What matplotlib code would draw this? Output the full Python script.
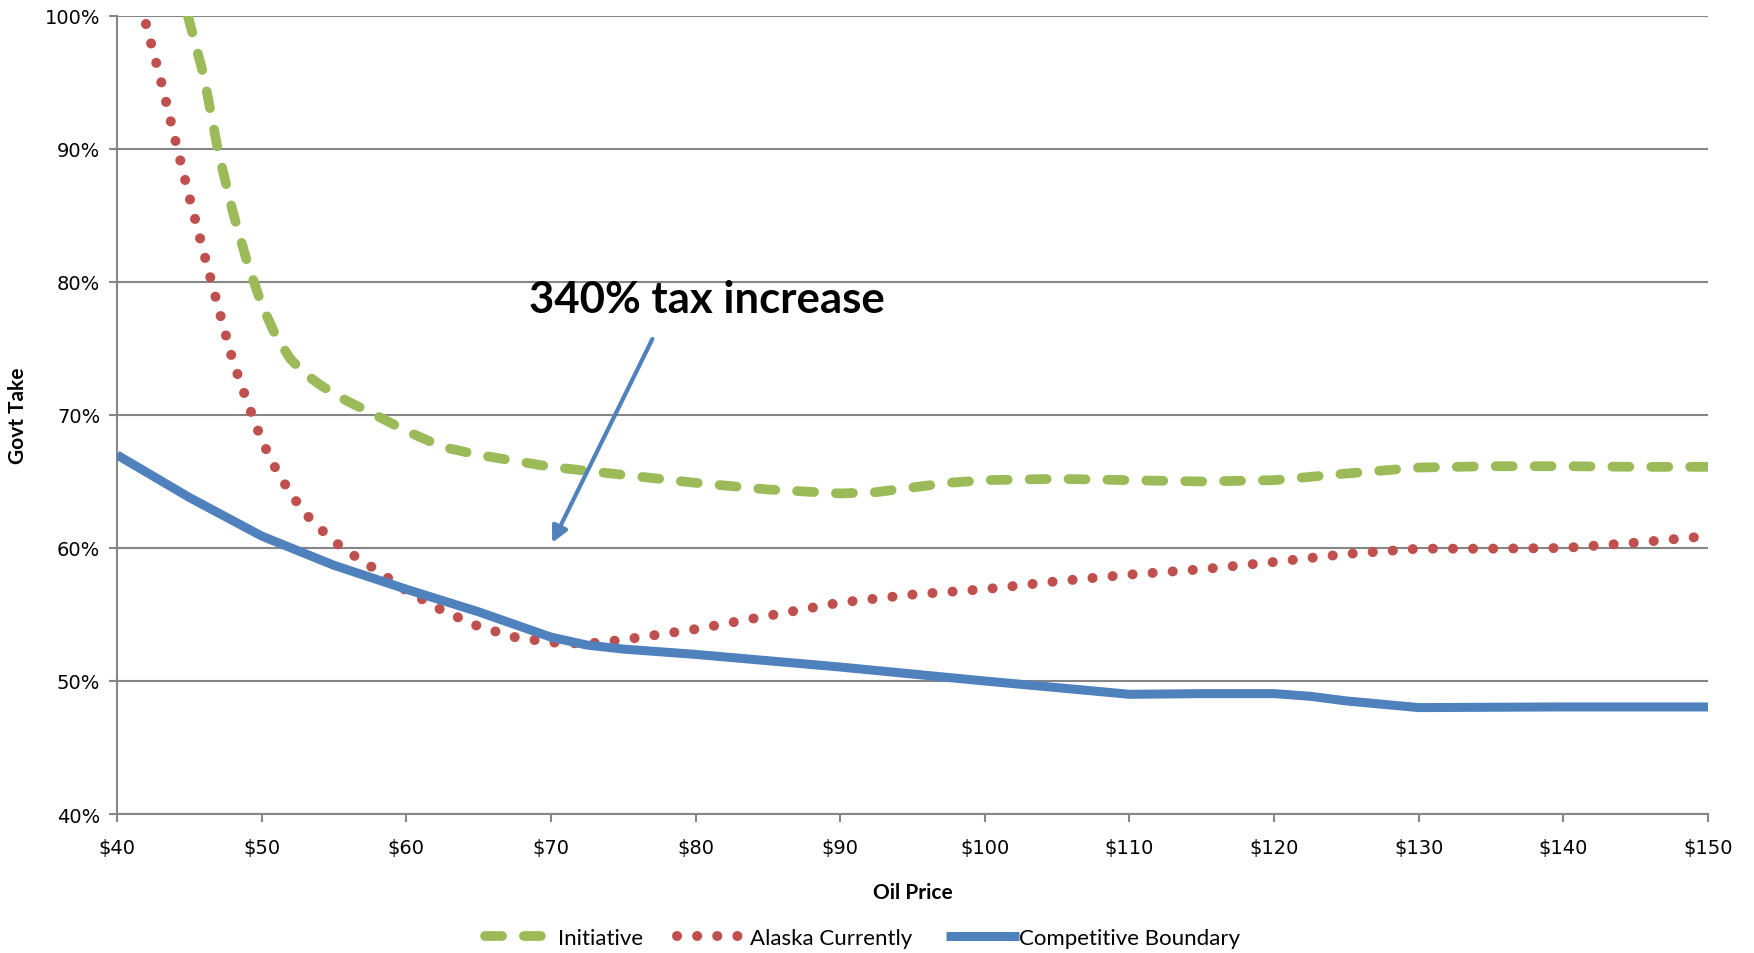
import matplotlib.pyplot as plt
from matplotlib.ticker import FuncFormatter

# oil price ($/bbl) and government take (%)
boundary_x = [40, 45, 50, 55, 60, 65, 70, 72.5, 75, 80, 90, 100, 105, 110, 115, 120, 122.5, 125,
              130, 140, 150]
boundary_y = [67.0, 63.8, 60.9, 58.7, 56.9, 55.2, 53.3, 52.7, 52.4, 52.0, 51.05, 50.0, 49.5,
              49.0, 49.05, 49.05, 48.85, 48.5, 48.0, 48.05, 48.05]

initiative_x = [44.9, 46, 47, 48, 49, 50, 51, 52, 53, 54, 55, 56, 57.5, 60, 62.5, 65, 70, 75, 80,
                85, 90, 92.5, 95, 97.5, 100, 105, 110, 115, 120, 125, 130, 135, 140, 145, 150]
initiative_y = [100.0, 95.5, 89.8, 85.3, 81.5, 78.3, 75.9, 74.2, 73.1, 72.3, 71.6, 71.0, 70.2,
                68.8, 67.6, 67.0, 66.1, 65.5, 64.9, 64.4, 64.1, 64.2, 64.55, 64.9, 65.1, 65.2,
                65.1, 65.0, 65.1, 65.6, 66.05, 66.15, 66.15, 66.1, 66.1]

alaska_x = [42, 43, 44, 45, 46, 47, 48, 49, 50, 51, 52, 53, 54, 55, 56, 58, 60, 62.5, 65, 67.5,
            70, 72.5, 75, 77.5, 80, 85, 90, 95, 100, 105, 110, 115, 120, 125, 130, 135, 140,
            145, 150]
alaska_y = [99.4, 95.3, 90.8, 86.4, 82.2, 78.1, 74.1, 71.0, 68.1, 65.9, 64.1, 62.6, 61.5, 60.5,
            59.7, 58.3, 56.8, 55.3, 54.1, 53.3, 52.9, 52.8, 53.1, 53.5, 53.9, 54.9, 55.9, 56.5,
            56.9, 57.5, 58.0, 58.4, 58.95, 59.55, 59.95, 59.95, 60.0, 60.4, 60.9]

x_ticks = list(range(40, 151, 10))
y_ticks = list(range(40, 101, 10))

GREEN = '#9BBB59'
RED = '#C0504D'
BLUE = '#4F81BD'
GRID = '#868686'

fig = plt.figure(figsize=(17.54, 9.54), dpi=100)
ax = fig.add_axes([0.0667, 0.1457, 0.9071, 0.8365])

ax.plot(initiative_x, initiative_y, color=GREEN, lw=7, dashes=(1.75, 2.25),
        dash_capstyle='round', label='Initiative', zorder=3)
ax.plot(alaska_x, alaska_y, color=RED, lw=7.2, dashes=(0.01, 2.0),
        dash_capstyle='round', label='Alaska Currently', zorder=3)
ax.plot(boundary_x, boundary_y, color=BLUE, lw=6.5, solid_capstyle='butt',
        solid_joinstyle='round', label='Competitive Boundary', zorder=4)

ax.set_xlim(40, 150)
ax.set_ylim(40, 100)
ax.set_xticks(x_ticks)
ax.set_yticks(y_ticks)
ax.xaxis.set_major_formatter(FuncFormatter(lambda v, p: r'\$%d' % v))
ax.yaxis.set_major_formatter(FuncFormatter(lambda v, p: '%d%%' % v))
ax.tick_params(axis='both', colors=GRID, labelcolor='black', labelsize=14,
               length=6, width=1.5, direction='out')
ax.tick_params(axis='x', pad=11)
ax.tick_params(axis='y', pad=6)

ax.grid(axis='y', color=GRID, lw=1.5)
ax.set_axisbelow(True)
for s in ['top', 'right']:
    ax.spines[s].set_visible(False)
for s in ['left', 'bottom']:
    ax.spines[s].set_color(GRID)
    ax.spines[s].set_linewidth(1.5)

ax.set_xlabel('Oil Price', fontsize=15, fontweight='bold', family='Lato', labelpad=18)
ax.set_ylabel('Govt Take', fontsize=15, fontweight='bold', family='Lato', labelpad=12)

ax.text(80.8, 78.7, '340% tax increase', fontsize=31.5, fontweight='bold', family='Lato',
        ha='center', va='center')
ax.annotate('', xy=(70.0, 60.2), xytext=(77.1, 75.9),
            arrowprops=dict(arrowstyle='-|>', color=BLUE, lw=3, mutation_scale=24))

fig.legend(loc='center', bbox_to_anchor=(0.4917, 0.016), ncol=3, frameon=False,
           prop={'family': 'Lato', 'size': 16}, handlelength=3.3, handletextpad=0.0,
           columnspacing=1.5)

fig.savefig('out.png', dpi=100)
